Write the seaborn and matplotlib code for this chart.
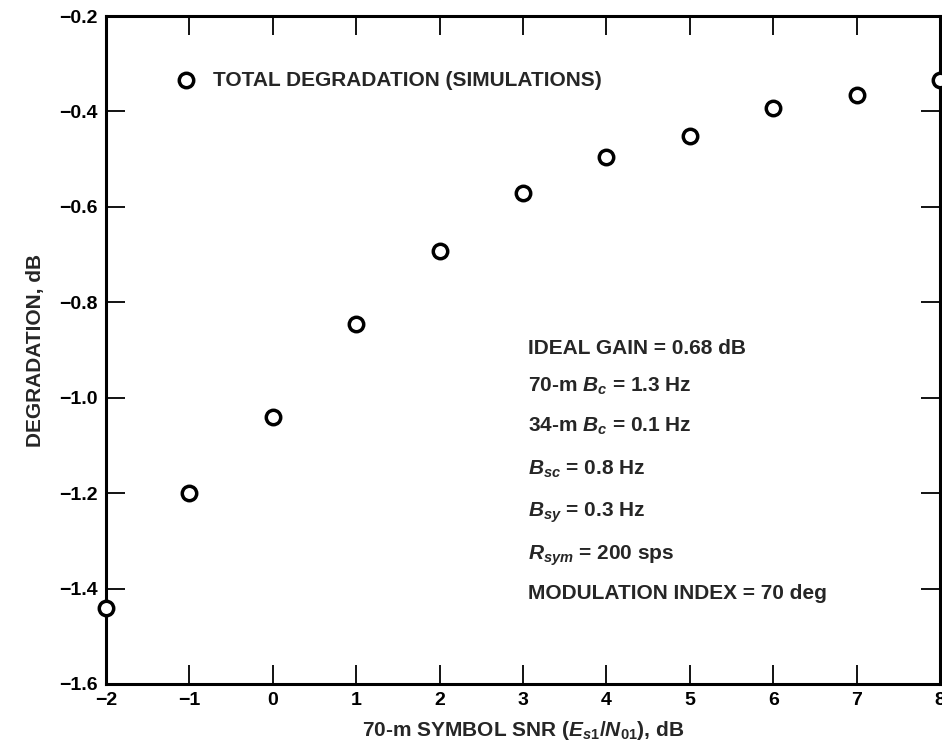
import matplotlib
matplotlib.use('Agg')
import matplotlib.pyplot as plt
import seaborn as sns

# Data
snr_db = [-2, -1, 0, 1, 2, 3, 4, 5, 6, 7, 8]
degradation_db = [-1.44, -1.20, -1.04, -0.846, -0.693, -0.570, -0.496, -0.452, -0.393, -0.366, -0.335]

x_ticks = [-2, -1, 0, 1, 2, 3, 4, 5, 6, 7, 8]
x_tick_labels = ['\u22122', '\u22121', '0', '1', '2', '3', '4', '5', '6', '7', '8']
y_ticks = [-1.6, -1.4, -1.2, -1.0, -0.8, -0.6, -0.4, -0.2]
y_tick_labels = ['\u22121.6', '\u22121.4', '\u22121.2', '\u22121.0', '\u22120.8', '\u22120.6', '\u22120.4', '\u22120.2']

series_label = 'TOTAL DEGRADATION (SIMULATIONS)'
param_lines = [
    'IDEAL GAIN = 0.68 dB',
    '70-m $B_c$ = 1.3 Hz',
    '34-m $B_c$ = 0.1 Hz',
    '$B_{sc}$ = 0.8 Hz',
    '$B_{sy}$ = 0.3 Hz',
    '$R_{sym}$ = 200 sps',
    'MODULATION INDEX = 70 deg',
]

sns.set_style('ticks')
plt.rcParams['font.family'] = ['Liberation Sans', 'DejaVu Sans']
plt.rcParams['font.weight'] = 'bold'
plt.rcParams['axes.labelweight'] = 'bold'
plt.rcParams['mathtext.fontset'] = 'custom'
plt.rcParams['mathtext.rm'] = 'Liberation Sans:bold'
plt.rcParams['mathtext.it'] = 'Liberation Sans:italic:bold'
plt.rcParams['mathtext.bf'] = 'Liberation Sans:bold'

fig = plt.figure(figsize=(9.42, 7.48), dpi=100)
ax = fig.add_axes([106 / 942, 1 - 684 / 748, (940 - 106) / 942, (684 - 16) / 748])

sns.scatterplot(x=snr_db, y=degradation_db, ax=ax, marker='o', s=108,
                facecolor='white', edgecolor='black', linewidth=2.5,
                label=series_label, clip_on=False, zorder=5)

ax.set_xlim(-2, 8)
ax.set_ylim(-1.6, -0.2)
ax.set_xticks(x_ticks)
ax.set_xticklabels(x_tick_labels)
ax.set_yticks(y_ticks)
ax.set_yticklabels(y_tick_labels)

for side in ['left', 'right', 'top', 'bottom']:
    ax.spines[side].set_visible(True)
    ax.spines[side].set_linewidth(2.2)
    ax.spines[side].set_color('black')

ax.tick_params(axis='both', which='major', direction='in', length=14, width=1.3,
               top=True, right=True, labelsize=14, colors='black', pad=6)

ax.set_xlabel('70-m SYMBOL SNR ($E_{s1}/N_{01}$), dB', fontsize=15, labelpad=7)
ax.set_ylabel('DEGRADATION, dB', fontsize=15, labelpad=10)

leg = ax.legend(loc='center left', bbox_to_anchor=(0.0845, 0.904), frameon=False,
                fontsize=15, handlelength=0.95, handletextpad=0.8, borderpad=0,
                borderaxespad=0)

line_y = [0.494, 0.437, 0.377, 0.314, 0.250, 0.186, 0.127]
for txt, yy in zip(param_lines, line_y):
    ax.text(0.506, yy, txt, transform=ax.transAxes, fontsize=15,
            ha='left', va='baseline')

fig.savefig('out.png', dpi=100)
